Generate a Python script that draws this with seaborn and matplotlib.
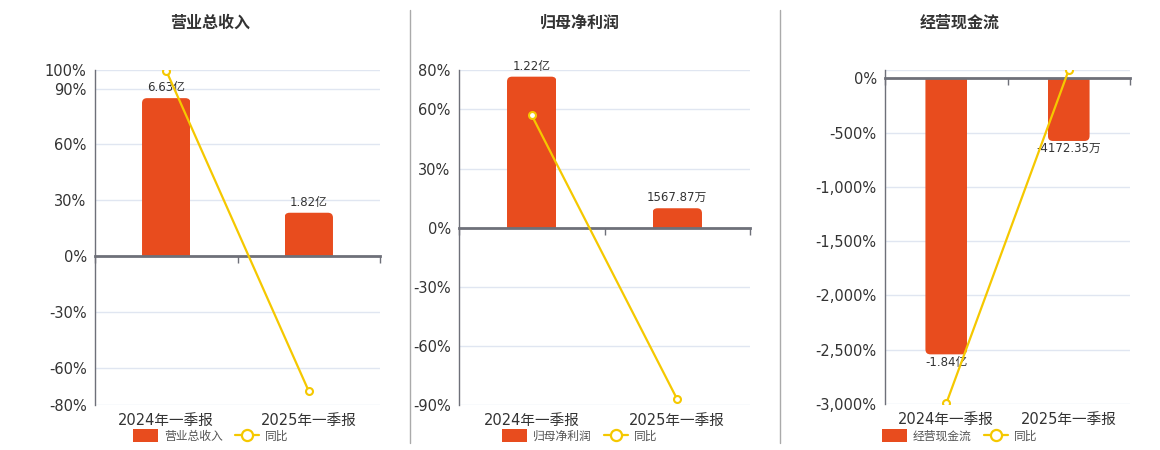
import numpy as np
import matplotlib
matplotlib.use("Agg")
import matplotlib.pyplot as plt
from matplotlib.lines import Line2D
from matplotlib.patches import Patch, FancyBboxPatch, Rectangle
import seaborn as sns

# Data (亿元 for bars, % for yoy)
periods = ["2024年一季报", "2025年一季报"]

revenue = [6.63, 1.82]
revenue_labels = ["6.63亿", "1.82亿"]
revenue_yoy = [99.6, -72.55]

net_profit = [1.22, 0.156787]
net_profit_labels = ["1.22亿", "1567.87万"]
net_profit_yoy = [57.0, -87.15]

cash_flow = [-1.84, -0.417235]
cash_flow_labels = ["-1.84亿", "-4172.35万"]
cash_flow_yoy = [-2995.0, 77.3]

titles = ["营业总收入", "归母净利润", "经营现金流"]

BAR_COLOR = "#E84C1E"
LINE_COLOR = "#F5C800"
AXIS_COLOR = "#6E7079"
GRID_COLOR = "#E0E6F1"
TEXT_COLOR = "#333333"

sns.set_theme(style="white")
plt.rcParams["font.family"] = ["DejaVu Sans", "Noto Sans CJK SC"]

W, H = 1160, 450
fig = plt.figure(figsize=(W / 100, H / 100), dpi=100)


def px_axes(left, right, top, bottom):
    return fig.add_axes([left / W, 1 - bottom / H, (right - left) / W, (bottom - top) / H])


def pct_fmt(v):
    return f"{v:,.0f}%"


def round_bars(ax, radius_px=5):
    # swap seaborn's square bars for ones rounded at the outer end
    p0, p1 = ax.transData.transform([(0, 0), (1, 1)])
    x_per_px = 1 / (p1[0] - p0[0])
    y_per_px = 1 / (p1[1] - p0[1])
    r_x = radius_px * x_per_px
    r_y = radius_px * y_per_px
    lo, hi = ax.get_ylim()
    for bar in list(ax.containers[0]):
        x0, w = bar.get_x(), bar.get_width()
        top = bar.get_y() + bar.get_height()
        if top >= 0:
            y0, h, clip = -r_y, top + r_y, Rectangle((x0, 0), w, hi, transform=ax.transData)
        else:
            y0, h, clip = top, -top + r_y, Rectangle((x0, lo), w, -lo, transform=ax.transData)
        rb = FancyBboxPatch((x0, y0), w, h, boxstyle=f"round,pad=0,rounding_size={r_x}",
                            mutation_aspect=y_per_px / x_per_px,
                            facecolor=bar.get_facecolor(), edgecolor="none", zorder=2)
        ax.add_patch(rb)
        rb.set_clip_path(clip)
        bar.set_visible(False)


def draw_panel(box, bars, bar_labels, yoy, pct_lim, pct_ticks, bar_span,
               title, title_x, legend_x, label_pad, top_grid=False):
    ax = px_axes(*box)
    x = np.arange(len(periods))

    # bars on the primary axis
    sns.barplot(x=periods, y=bars, ax=ax, color=BAR_COLOR, width=0.34,
                saturation=1, zorder=2)
    ax.bar_label(ax.containers[0], labels=bar_labels, padding=label_pad,
                 fontsize=8.5, color=TEXT_COLOR)

    pct_lo, pct_hi = pct_lim
    zero_frac = (0 - pct_lo) / (pct_hi - pct_lo)
    bar_lo = -zero_frac * bar_span
    bar_hi = bar_lo + bar_span
    ax.set_ylim(bar_lo, bar_hi)
    ax.set_xlim(-0.5, len(periods) - 0.5)
    round_bars(ax)

    # gridlines at the percent ticks, mapped into bar units
    grid_pos = list(pct_ticks) + ([pct_hi] if top_grid else [])
    to_bar = lambda p: bar_lo + (p - pct_lo) / (pct_hi - pct_lo) * bar_span
    ax.set_yticks([to_bar(p) for p in grid_pos])
    ax.yaxis.grid(True, color=GRID_COLOR, linewidth=1)
    ax.set_axisbelow(True)
    ax.set_ylabel("")

    # zero line with boundary ticks
    for s in ["top", "right"]:
        ax.spines[s].set_visible(False)
    ax.spines["left"].set_color(AXIS_COLOR)
    ax.spines["left"].set_linewidth(1)
    ax.spines["bottom"].set_position(("data", 0))
    ax.spines["bottom"].set_color(AXIS_COLOR)
    ax.spines["bottom"].set_linewidth(2)
    ax.spines["bottom"].set_zorder(3)
    ax.set_xticks(np.arange(len(periods) + 1) - 0.5, labels=[""] * (len(periods) + 1))
    ax.tick_params(axis="x", bottom=True, length=5, width=1, color=AXIS_COLOR,
                   direction="out")

    # category labels at the bottom
    sec = ax.secondary_xaxis("bottom")
    sec.set_xticks(x, labels=periods)
    sec.tick_params(length=0, labelsize=10.5, labelcolor=TEXT_COLOR, pad=6)
    sec.spines["bottom"].set_visible(False)

    # yoy line on a twin axis, ticks on the left
    pct = ax.twinx()
    ax.tick_params(axis="y", left=False, right=False, labelleft=False, labelright=False)
    sns.lineplot(x=x, y=yoy, ax=pct, color=LINE_COLOR, linewidth=1.6,
                 marker="o", markersize=5, markerfacecolor="white",
                 markeredgecolor=LINE_COLOR, markeredgewidth=1.5, zorder=3)
    pct.set_ylim(pct_lo, pct_hi)
    pct.yaxis.tick_left()
    pct.set_yticks(pct_ticks, labels=[pct_fmt(t) for t in pct_ticks])
    pct.tick_params(axis="y", length=0, labelsize=10.5, labelcolor=TEXT_COLOR, pad=6)
    pct.set_ylabel("")
    for s in pct.spines.values():
        s.set_visible(False)

    fig.text(title_x / W, 1 - 23 / H, title, ha="center", va="center",
             fontsize=11.5, fontweight="bold", color=TEXT_COLOR,
             family=["Noto Sans CJK SC", "DejaVu Sans"])

    handles = [
        Patch(facecolor=BAR_COLOR, edgecolor="none", label=title),
        Line2D([0], [0], color=LINE_COLOR, linewidth=1.6, marker="o",
               markersize=8, markerfacecolor="white", markeredgecolor=LINE_COLOR,
               markeredgewidth=1.6, label="同比"),
    ]
    pct.legend(handles=handles, loc="center", ncol=2, frameon=False,
               bbox_to_anchor=(legend_x / W, 1 - 436 / H),
               bbox_transform=fig.transFigure, fontsize=8.5,
               handlelength=2.1, handleheight=1.3, handletextpad=0.5,
               columnspacing=1.0, labelcolor="#555555")


draw_panel((95, 380, 70, 405), revenue, revenue_labels, revenue_yoy,
           (-80, 100), [-80, -60, -30, 0, 30, 60, 90, 100], 14.06,
           titles[0], 210, 211, 3)
draw_panel((459, 750, 70, 405), net_profit, net_profit_labels, net_profit_yoy,
           (-90, 80), [-90, -60, -30, 0, 30, 60, 80], 2.707,
           titles[1], 580, 580, 3)
draw_panel((885, 1130, 70, 404), cash_flow, cash_flow_labels, cash_flow_yoy,
           (-3000, 77.3), [-3000, -2500, -2000, -1500, -1000, -500, 0], 2.227,
           titles[2], 960, 960, 1, top_grid=True)

# panel separators
for sx in [410, 780]:
    fig.add_artist(Line2D([sx / W, sx / W], [1 - 10 / H, 1 - 443 / H],
                          color="#AAAAAA", linewidth=1))

fig.savefig("out.png", dpi=100)
